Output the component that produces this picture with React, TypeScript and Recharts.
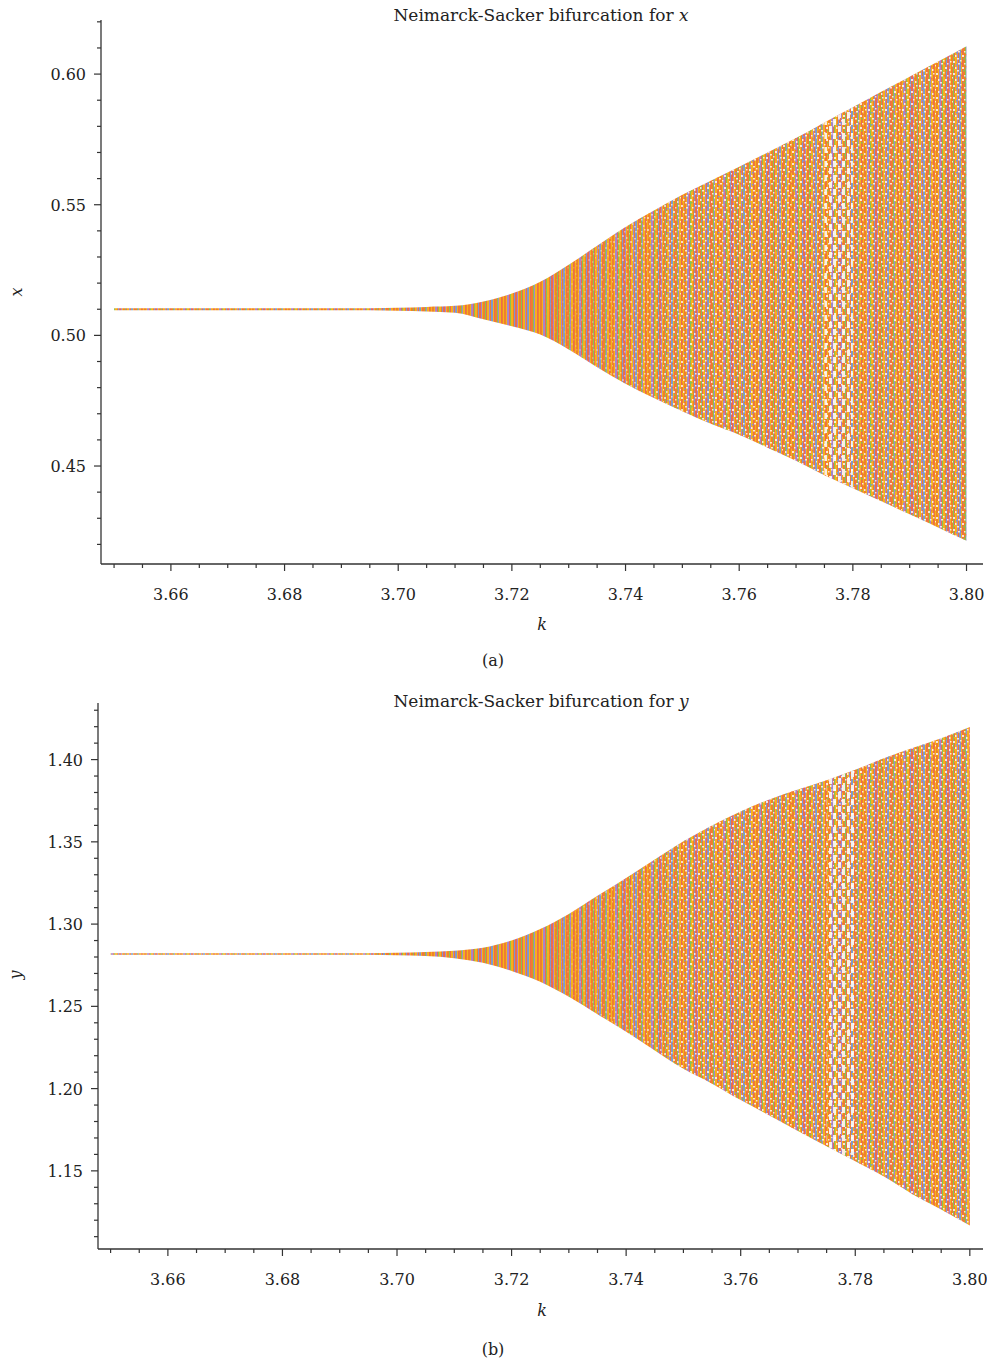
import React from "react";
import { ComposedChart, Area, XAxis, YAxis } from "recharts";

// k 軸の値（0.005 刻み）
const kValues = [
  3.65, 3.655, 3.66, 3.665, 3.67, 3.675, 3.68, 3.685, 3.69, 3.695,
  3.7, 3.705, 3.71, 3.715, 3.72, 3.725, 3.73, 3.735, 3.74, 3.745,
  3.75, 3.755, 3.76, 3.765, 3.77, 3.775, 3.78, 3.785, 3.79, 3.795, 3.8,
];

// x の上下の包絡線
const xUpper = [
  0.5104, 0.5104, 0.5104, 0.5104, 0.5104, 0.5104, 0.5104, 0.5104, 0.5104, 0.5104,
  0.5106, 0.5109, 0.5113, 0.513, 0.516, 0.5205, 0.527, 0.5343, 0.5415, 0.5478,
  0.5538, 0.5592, 0.5645, 0.57, 0.5755, 0.5815, 0.5873, 0.5932, 0.599, 0.6048, 0.6107,
];
const xLower = [
  0.5096, 0.5096, 0.5096, 0.5096, 0.5096, 0.5096, 0.5096, 0.5096, 0.5096, 0.5096,
  0.5094, 0.5091, 0.5087, 0.5062, 0.5035, 0.5003, 0.4946, 0.4878, 0.4815, 0.476,
  0.471, 0.4662, 0.462, 0.457, 0.452, 0.4465, 0.4415, 0.4365, 0.4315, 0.4265, 0.4214,
];

// y の上下の包絡線
const yUpper = [
  1.2823, 1.2823, 1.2823, 1.2823, 1.2823, 1.2823, 1.2823, 1.2823, 1.2823, 1.2823,
  1.2826, 1.283, 1.2838, 1.2856, 1.29, 1.297, 1.3062, 1.3172, 1.328, 1.3393,
  1.3503, 1.36, 1.3685, 1.3758, 1.3818, 1.3875, 1.3938, 1.4008, 1.407, 1.413, 1.4198,
];
const yLower = [
  1.2813, 1.2813, 1.2813, 1.2813, 1.2813, 1.2813, 1.2813, 1.2813, 1.2813, 1.2813,
  1.281, 1.2806, 1.2793, 1.2765, 1.2715, 1.265, 1.2558, 1.2452, 1.2345, 1.2232,
  1.212, 1.203, 1.193, 1.1837, 1.1743, 1.165, 1.1558, 1.1465, 1.1358, 1.1265, 1.1168,
];

// 周期窓（白い輪が見える範囲）
const windowStart = 3.7725;
const windowEnd = 3.782;

// 目盛り
const kTicks = kValues;
const xTicks = [
  0.42, 0.43, 0.44, 0.45, 0.46, 0.47, 0.48, 0.49, 0.5, 0.51, 0.52,
  0.53, 0.54, 0.55, 0.56, 0.57, 0.58, 0.59, 0.6, 0.61, 0.62,
];
const yTicks = [
  1.11, 1.12, 1.13, 1.14, 1.15, 1.16, 1.17, 1.18, 1.19, 1.2, 1.21,
  1.22, 1.23, 1.24, 1.25, 1.26, 1.27, 1.28, 1.29, 1.3, 1.31, 1.32,
  1.33, 1.34, 1.35, 1.36, 1.37, 1.38, 1.39, 1.4, 1.41, 1.42, 1.43,
];

const FONT = "'DejaVu Serif', serif";
const AXIS = "#333";

const COLORS = {
  orange: "#f07f2d",
  amber: "#f5b21a",
  purple: "#a885c9",
  red: "#eb6a50",
  green: "#86c256",
  blue: "#8098cd",
};

const STRIPES: Array<[string, number]> = [
  [COLORS.orange, 2], [COLORS.amber, 1], [COLORS.purple, 2], [COLORS.red, 1],
  [COLORS.green, 1], [COLORS.amber, 2], [COLORS.orange, 1], [COLORS.blue, 1],
  [COLORS.red, 2], [COLORS.purple, 1], [COLORS.amber, 1], [COLORS.orange, 2],
  [COLORS.green, 1], [COLORS.red, 1], [COLORS.amber, 2], [COLORS.purple, 1],
  [COLORS.orange, 1], [COLORS.blue, 2], [COLORS.amber, 1], [COLORS.red, 1],
  [COLORS.orange, 2], [COLORS.green, 1], [COLORS.purple, 1], [COLORS.amber, 2],
  [COLORS.red, 1], [COLORS.orange, 1], [COLORS.amber, 1],
];

const SPECKS: Array<[number, number, number, number]> = [
  [1, 1, 2, 2], [6, 3, 2, 1.5], [10, 7, 2, 2], [3, 7, 1.5, 2], [8, 0, 1.5, 1.5],
  [12, 3, 1.5, 1.5], [5, 10, 2, 1.5], [0, 5, 1, 1.5], [14, 9, 1.5, 2], [15, 1, 1.5, 1.5],
];

const DOTS: Array<[number, number, string]> = [
  [4, 4, COLORS.blue], [11, 10, COLORS.green], [13, 6, COLORS.orange],
  [2, 9, COLORS.amber], [9, 3, COLORS.red],
];

const Defs = ({ id }: { id: string }) => {
  let pos = 0;
  const rects = STRIPES.map(([c, w], i) => {
    const r = <rect key={i} x={pos} y={0} width={w} height={12} fill={c} />;
    pos += w;
    return r;
  });
  return (
    <defs>
      <pattern id={`stripes-${id}`} patternUnits="userSpaceOnUse" width={pos} height={12}>
        {rects}
      </pattern>
      <pattern id={`specks-${id}`} patternUnits="userSpaceOnUse" width={17} height={12}>
        {SPECKS.map(([x, y, w, h], i) => (
          <rect key={i} x={x} y={y} width={w} height={h} fill="#fff" fillOpacity={0.8} />
        ))}
        {DOTS.map(([x, y, c], i) => (
          <rect key={`d${i}`} x={x} y={y} width={1.5} height={1.5} fill={c} />
        ))}
      </pattern>
      <pattern id={`loops-${id}`} patternUnits="userSpaceOnUse" width={9} height={14}>
        <rect x={1} y={0} width={3} height={6} fill="#fff" />
        <rect x={5} y={7} width={3} height={6} fill="#fff" />
        <rect x={3} y={10} width={1.5} height={1.5} fill={COLORS.blue} />
      </pattern>
      <linearGradient id={`fade-${id}`} x1="0" y1="0" x2="1" y2="0">
        <stop offset="0.5" stopColor="#fff" stopOpacity={0} />
        <stop offset="0.68" stopColor="#fff" stopOpacity={1} />
      </linearGradient>
      <mask id={`mask-${id}`} maskContentUnits="objectBoundingBox">
        <rect x={0} y={0} width={1} height={1} fill={`url(#fade-${id})`} />
      </mask>
    </defs>
  );
};

const XTick = ({ x, y, payload }: any) => {
  const v = payload.value;
  const major = Math.round(v * 1000) % 20 === 0;
  return (
    <g>
      <line x1={x} x2={x} y1={y} y2={y + (major ? 7 : 4)} stroke={AXIS} strokeWidth={1.2} />
      {major && (
        <text x={x} y={y + 36} textAnchor="middle" fontFamily={FONT} fontSize={16} fill="#222">
          {v.toFixed(2)}
        </text>
      )}
    </g>
  );
};

const YTick = ({ x, y, payload }: any) => {
  const v = payload.value;
  const major = Math.round(v * 100) % 5 === 0;
  return (
    <g>
      <line x1={x} x2={x - (major ? 7 : 4)} y1={y} y2={y} stroke={AXIS} strokeWidth={1.2} />
      {major && (
        <text x={x - 15} y={y + 6} textAnchor="end" fontFamily={FONT} fontSize={16} fill="#222">
          {v.toFixed(2)}
        </text>
      )}
    </g>
  );
};

const Label = ({ left, top, children, rotate = 0, italic = false, size = 16 }: any) => (
  <div
    style={{
      position: "absolute",
      left,
      top,
      transform: `translate(-50%, -50%) rotate(${rotate}deg)`,
      fontFamily: FONT,
      fontSize: size,
      lineHeight: 1,
      whiteSpace: "nowrap",
      color: "#222",
      fontStyle: italic ? "italic" : "normal",
    }}
  >
    {children}
  </div>
);

const buildData = (lower: number[], upper: number[]) =>
  kValues.map((k, i) => ({
    k,
    range: [lower[i], upper[i]],
    loops: k >= windowStart && k <= windowEnd ? [lower[i], upper[i]] : null,
  }));

const dataA = buildData(xLower, xUpper);
const dataB = buildData(yLower, yUpper);

const Panel = ({ id, data, yDomain, yTicksList, kDomain, yWidth, margin, height }: any) => (
  <ComposedChart width={987} height={height} data={data} margin={margin}>
    <Defs id={id} />
    <XAxis
      dataKey="k"
      type="number"
      domain={kDomain}
      ticks={kTicks}
      interval={0}
      tickSize={0}
      tickMargin={0}
      tick={<XTick />}
      height={40}
      axisLine={{ stroke: AXIS, strokeWidth: 1.3 }}
      allowDataOverflow
    />
    <YAxis
      type="number"
      domain={yDomain}
      ticks={yTicksList}
      interval={0}
      tickSize={0}
      tickMargin={0}
      tick={<YTick />}
      width={yWidth}
      axisLine={{ stroke: AXIS, strokeWidth: 1.3 }}
      allowDataOverflow
    />
    <Area
      type="monotone"
      dataKey="range"
      stroke="none"
      fill={`url(#stripes-${id})`}
      fillOpacity={1}
      dot={false}
      activeDot={false}
      isAnimationActive={false}
    />
    <Area
      type="monotone"
      dataKey="range"
      stroke="none"
      fill={`url(#specks-${id})`}
      fillOpacity={1}
      mask={`url(#mask-${id})`}
      dot={false}
      activeDot={false}
      isAnimationActive={false}
    />
    <Area
      type="monotone"
      dataKey="loops"
      stroke="none"
      fill={`url(#loops-${id})`}
      fillOpacity={0.85}
      dot={false}
      activeDot={false}
      isAnimationActive={false}
    />
  </ComposedChart>
);

export default function App() {
  return (
    <div style={{ position: "absolute", left: 0, top: 0, width: 987, height: 1363, background: "#fff" }}>
      <div style={{ position: "absolute", left: 0, top: 0 }}>
        <Panel
          id="a"
          data={dataA}
          yDomain={[0.4125, 0.6207]}
          yTicksList={xTicks}
          kDomain={[3.6477, 3.8029]}
          yWidth={101}
          height={640}
          margin={{ top: 20, right: 4, left: 0, bottom: 36 }}
        />
      </div>
      <div style={{ position: "absolute", left: 0, top: 680 }}>
        <Panel
          id="b"
          data={dataB}
          yDomain={[1.1025, 1.4344]}
          yTicksList={yTicks}
          kDomain={[3.6478, 3.8023]}
          yWidth={98}
          height={620}
          margin={{ top: 23, right: 4, left: 0, bottom: 11 }}
        />
      </div>
      <Label left={541} top={15} size={17}>
        Neimarck-Sacker bifurcation for <i>x</i>
      </Label>
      <Label left={17} top={292} rotate={-90} italic>x</Label>
      <Label left={542} top={625} italic>k</Label>
      <Label left={493} top={661}>(a)</Label>
      <Label left={541} top={701} size={17}>
        Neimarck-Sacker bifurcation for <i>y</i>
      </Label>
      <Label left={16} top={975} rotate={-90} italic>y</Label>
      <Label left={542} top={1311} italic>k</Label>
      <Label left={493} top={1350}>(b)</Label>
    </div>
  );
}
